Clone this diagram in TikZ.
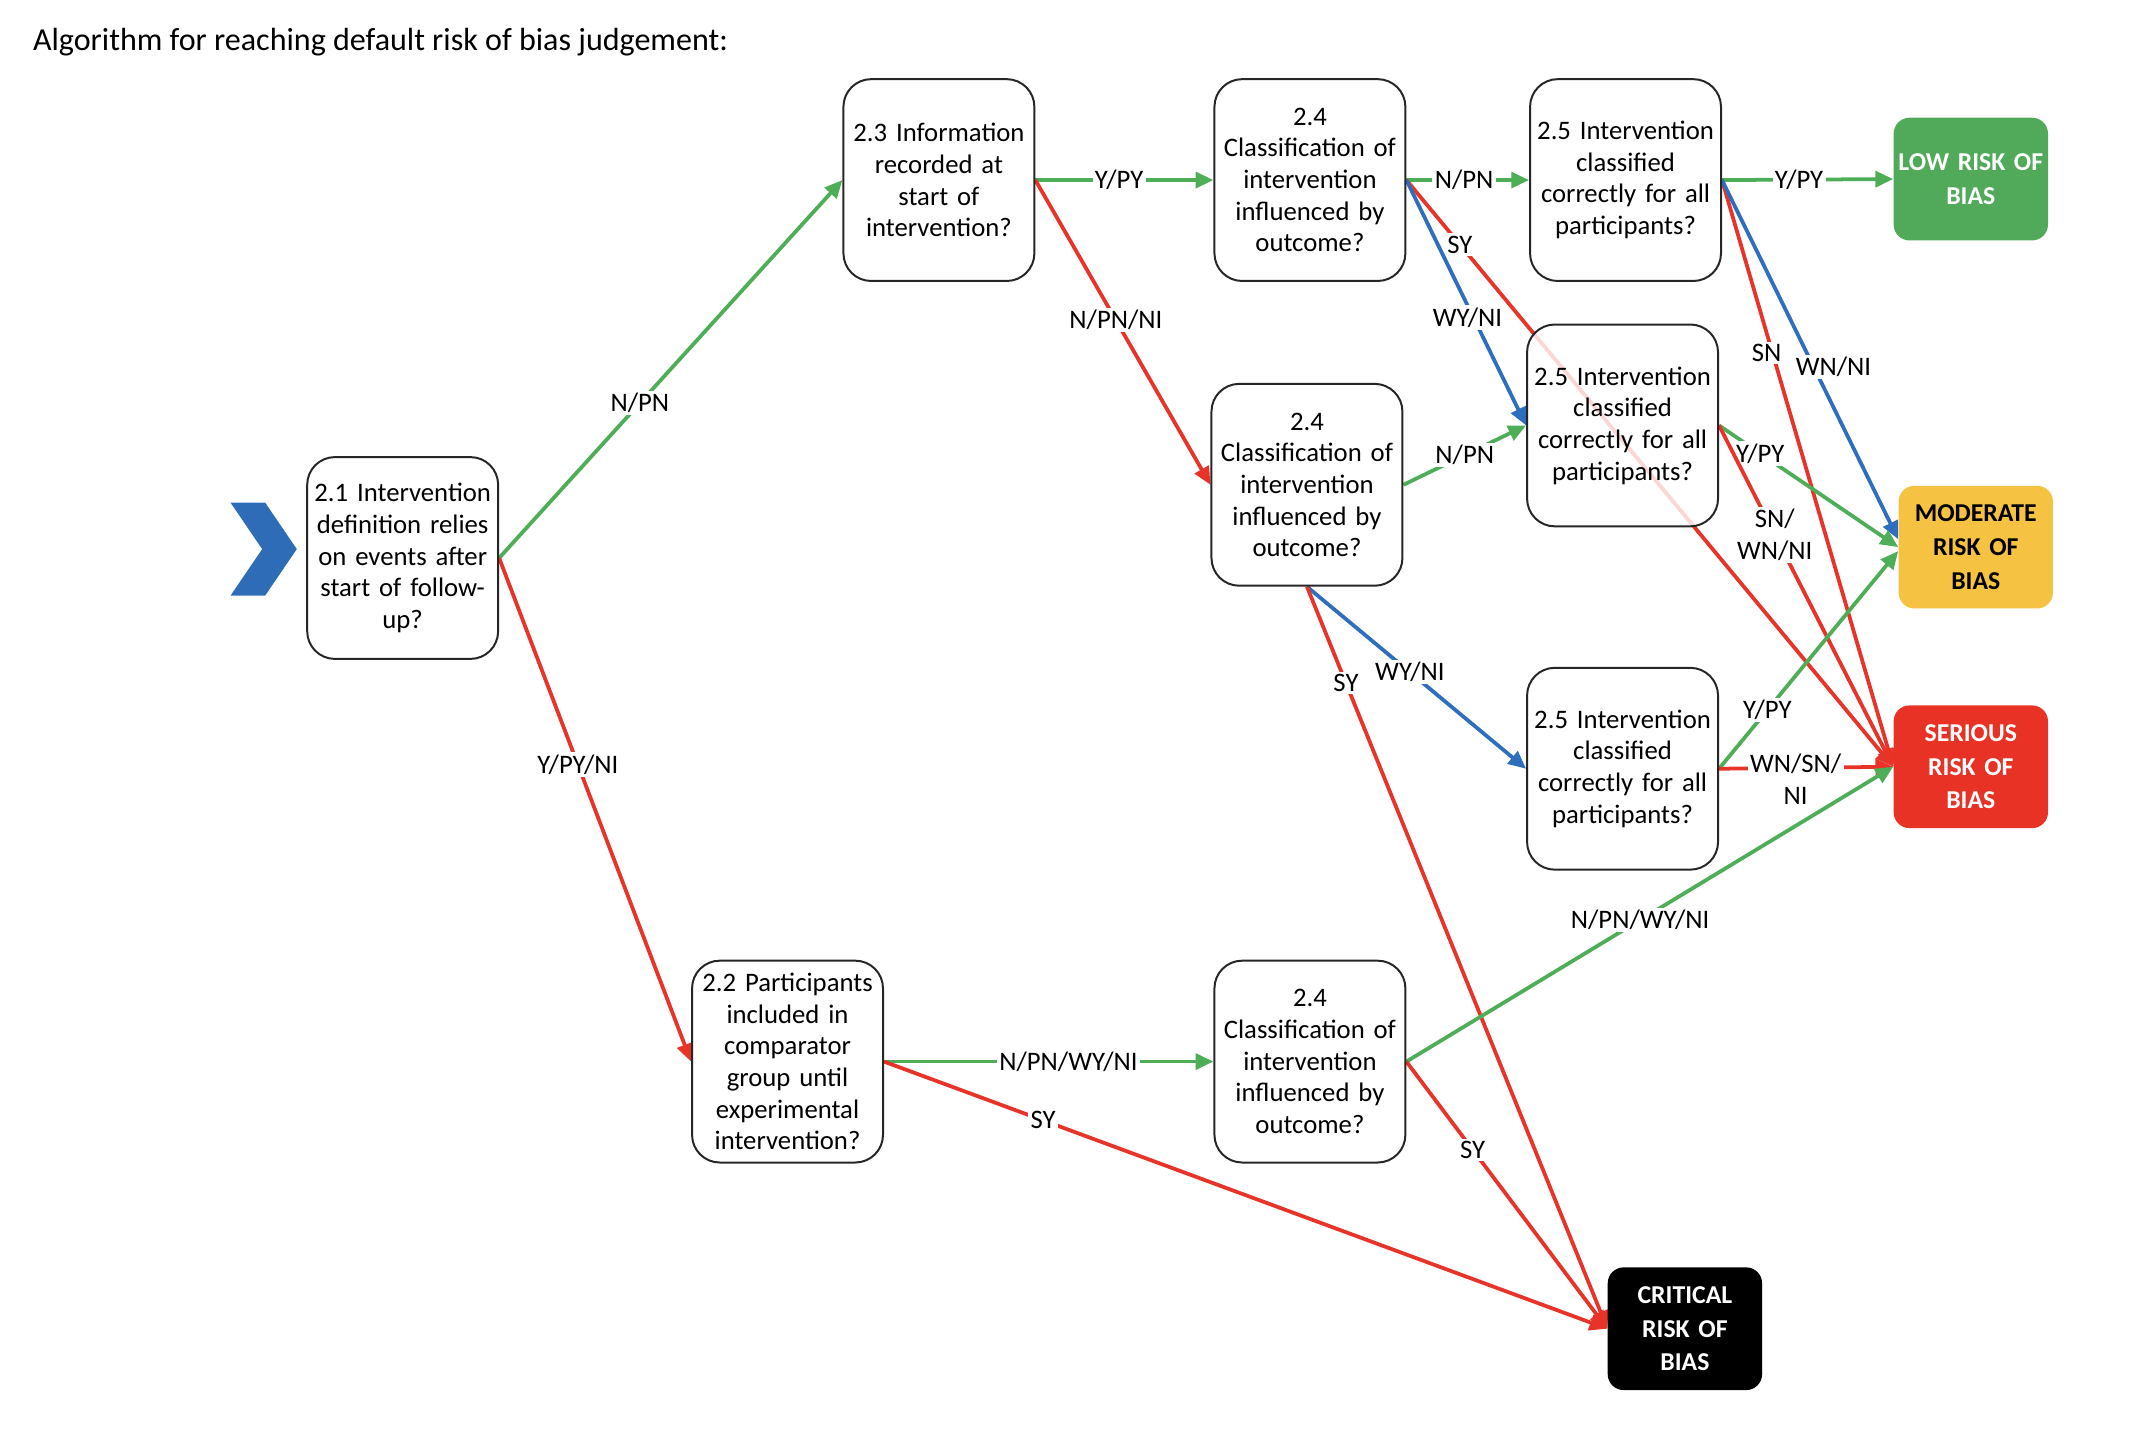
\documentclass[tikz,border=0pt]{standalone}
\usepackage{fontspec}
\setmainfont{Carlito}
\usetikzlibrary{arrows.meta}
\pgfdeclarelayer{bg}
\pgfsetlayers{bg,main}
\definecolor{cgreen}{RGB}{78,174,88}
\definecolor{cred}{RGB}{232,52,40}
\definecolor{cblue}{RGB}{46,110,190}
\definecolor{lowfill}{RGB}{80,170,90}
\definecolor{modfill}{RGB}{245,194,66}
\definecolor{serfill}{RGB}{232,50,38}
\definecolor{chev}{RGB}{46,108,184}
\begin{document}
\begin{tikzpicture}[x=0.5pt,y=-0.5pt,
  qbox/.style={draw=black!85, line width=1pt, rounded corners=14pt, fill=white, fill opacity=0.8, text opacity=1,
    minimum width=96.5pt, minimum height=102pt, text width=94pt, align=center, inner sep=1pt,
    font=\fontsize{13.5}{16}\selectfont},
  res/.style={rounded corners=8pt, minimum width=77.5pt, minimum height=62pt, text width=76pt, align=center,
    inner sep=1pt, font=\bfseries\fontsize{13}{17}\selectfont},
  lab/.style={fill=white, inner sep=1.2pt, text=black, font=\fontsize{13.5}{16}\selectfont, align=center},
  edge/.style={line width=1.9pt, -{Triangle[length=9pt,width=8pt]}},
  eg/.style={edge, draw=cgreen, fill=cgreen},
  er/.style={edge, draw=cred, fill=cred},
  eb/.style={edge, draw=cblue, fill=cblue}]
\useasboundingbox (0,0) rectangle (2161,1446);
\node[anchor=west, inner sep=0pt, font=\fontsize{16.2}{19}\selectfont] (title) at (33,43) {Algorithm for reaching default risk of bias judgement:};
% chevron
\fill[chev] (233,508) -- (268,508) -- (300,555) -- (268,602) -- (233,602) -- (265,555) -- cycle;
% question boxes
\node[qbox] (b21) at (407,564) {2.1 Intervention\\definition relies\\on events after\\start of follow-\\up?};
\node[qbox] (b23) at (949,182) {2.3 Information\\recorded at\\start of\\intervention?};
\node[qbox] (b24a) at (1324,182) {2.4\\Classification of\\intervention\\influenced by\\outcome?};
\node[qbox] (b25a) at (1643,182) {2.5 Intervention\\classified\\correctly for all\\participants?};
\node[qbox] (b24b) at (1321,490) {2.4\\Classification of\\intervention\\influenced by\\outcome?};
\node[qbox] (b25b) at (1640,430) {2.5 Intervention\\classified\\correctly for all\\participants?};
\node[qbox] (b25c) at (1640,777) {2.5 Intervention\\classified\\correctly for all\\participants?};
\node[qbox] (b22) at (796,1073) {2.2 Participants\\included in\\comparator\\group until\\experimental\\intervention?};
\node[qbox] (b24c) at (1324,1073) {2.4\\Classification of\\intervention\\influenced by\\outcome?};
% result boxes
\node[res, fill=lowfill, text=white] (low) at (1992,181) {LOW RISK OF\\BIAS};
\node[res, fill=modfill, text=black] (mod) at (1997,553) {MODERATE\\RISK OF\\BIAS};
\node[res, fill=serfill, text=white] (ser) at (1992,775) {SERIOUS\\RISK OF\\BIAS};
\node[res, fill=black, text=white] (crit) at (1703,1343) {CRITICAL\\RISK OF\\BIAS};
% connectors
\begin{pgfonlayer}{bg}
\draw[eg] (b21.east) -- node[lab,pos=.41] {N/PN} (b23.west);
\draw[er] (b21.east) -- node[lab,pos=.41] {Y/PY/NI} (b22.west);
\draw[eg] (b23.east) -- node[lab,pos=.47] {Y/PY} (b24a.west);
\draw[er] (b23.east) -- node[lab,pos=.46] {N/PN/NI} (b24b.west);
\draw[eg] (b24a.east) -- node[lab,pos=.47] {N/PN} (b25a.west);
\draw[er] (b24a.east) -- node[lab,pos=.11] {SY} (ser.west);
\draw[eb] (b24a.east) -- node[lab,pos=.56,xshift=-3pt] {WY/NI} (b25b.west);
\draw[eg] (b25a.east) -- node[lab,pos=.45] {Y/PY} (low.west);
\draw[er] (b25a.east) -- node[lab,pos=.295,xshift=-3pt] {SN} (ser.west);
\draw[eb] (b25a.east) -- node[lab,pos=.52,xshift=10pt] {WN/NI} ([yshift=4pt]mod.west);
\draw[eg] (b24b.east) -- node[lab,pos=.5] {N/PN} (b25b.west);
\draw[eb] (b24b.south) -- node[lab,pos=.47] {WY/NI} (b25c.west);
\draw[er] (b24b.south) -- node[lab,pos=.13] {SY} (crit.west);
\draw[eg] (b25b.east) -- node[lab,pos=.23] {Y/PY} (mod.west);
\draw[er] (b25b.east) -- node[lab,pos=.32] {SN/\\WN/NI} (ser.west);
\draw[eg] (b25c.east) -- node[lab,pos=.27] {Y/PY} ([yshift=-2pt]mod.west);
\draw[er] (b25c.east) -- node[lab,pos=.44,anchor=north,yshift=9pt] {WN/SN/\\NI} (ser.west);
\draw[eg] (b24c.east) -- node[lab,pos=.48] {N/PN/WY/NI} (ser.west);
\draw[er] (b24c.east) -- node[lab,pos=.33] {SY} (crit.west);
\draw[eg] (b22.east) -- node[lab,pos=.56] {N/PN/WY/NI} (b24c.west);
\draw[er] (b22.east) -- node[lab,pos=.22] {SY} (crit.west);
\end{pgfonlayer}
\end{tikzpicture}
\end{document}
